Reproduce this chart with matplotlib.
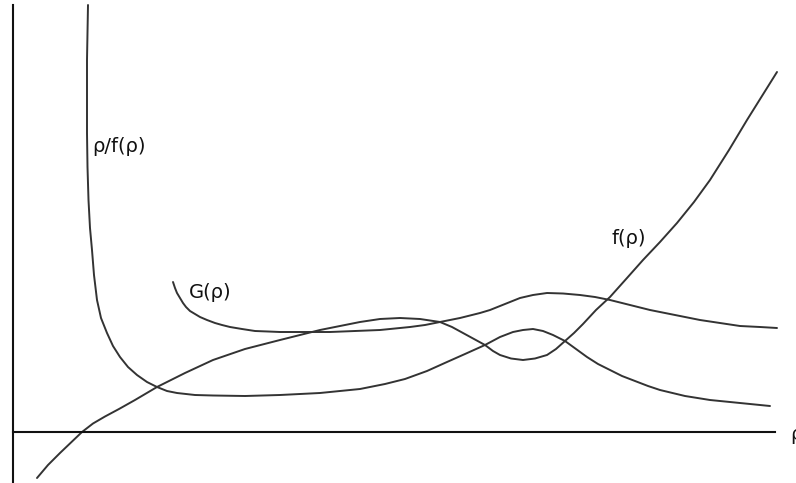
import matplotlib
matplotlib.use('Agg')
import matplotlib.pyplot as plt

# rho / f(rho): pole at small rho, flat, a hump, then decaying
rho_q = [75, 74, 74, 74, 74.5, 75.5, 77, 79, 81, 84, 88, 94, 100, 107, 115, 124, 134, 144,
         154, 164, 182, 200, 232, 267, 307, 347, 372, 392, 414, 434, 452, 472, 487, 500,
         510, 520, 530, 540, 552, 563, 574, 585, 597, 609, 622, 635, 647, 672, 697, 727, 757]
q_val = [427, 372, 330, 299, 265, 232, 204, 182, 157, 132, 114, 99, 86, 75, 65, 57, 50, 45,
         41, 39, 37, 36.5, 36, 37, 39, 43, 48, 53, 61, 70, 78, 87, 95, 100,
         102, 103, 101, 97, 91, 83, 75, 68, 62, 56, 51, 46, 42, 36, 32, 29, 26]

# f(rho): local max, local min, then steep rise
rho_f = [24, 35, 47, 58, 69, 80, 92, 106, 122, 144, 172, 200, 232, 267, 307, 347, 367, 387,
         407, 427, 439, 450, 461, 472, 480, 487, 498, 510, 522, 534, 543, 552, 561, 570,
         583, 597, 614, 630, 647, 664, 681, 697, 716, 734, 749, 764]
f_val = [-46, -33, -21, -10.5, 0, 8.5, 15.5, 23, 32, 45, 59, 72, 83, 92, 102, 110, 113, 114,
         113, 110, 105, 99, 93, 87, 81, 77, 73.5, 72, 73.5, 77, 83, 91, 99, 108,
         122, 135, 154, 172, 190, 209, 230, 252, 282, 312, 336, 360]

# G(rho)
rho_g = [160, 162, 164, 167, 170, 173, 177, 182, 187, 194, 202, 209, 217, 229, 242, 255,
         267, 292, 317, 342, 367, 382, 397, 412, 427, 447, 467, 477, 487, 497, 507, 520,
         534, 550, 567, 582, 597, 617, 637, 662, 687, 707, 727, 747, 764]
g_val = [150, 144, 139, 134, 129, 125, 121, 118, 115, 112, 109, 107, 105, 103, 101, 100.5,
         100, 100, 100, 101, 102, 103.5, 105, 107, 110, 114, 119, 122, 126, 130, 134, 137,
         139, 138.5, 137, 135, 132, 127, 122, 117, 112, 109, 106, 105, 104]

kolor = '#333333'

fig = plt.figure(figsize=(7.96, 4.83), dpi=100)
ax = fig.add_axes([0, 0, 1, 1])
ax.set_xlim(-13, 783)
ax.set_ylim(-51, 432)

for xs, ys in [(rho_q, q_val), (rho_f, f_val), (rho_g, g_val)]:
    ax.plot(xs, ys, color=kolor, lw=1.4, solid_joinstyle='round', solid_capstyle='round')

# osie przez zero
for s in ['top', 'right']:
    ax.spines[s].set_visible(False)
ax.spines['left'].set_position(('data', 0))
ax.spines['bottom'].set_position(('data', 0))
ax.spines['left'].set_bounds(-51, 427)
ax.spines['bottom'].set_bounds(0, 762)
for s in ['left', 'bottom']:
    ax.spines[s].set_linewidth(1.5)
    ax.spines[s].set_color('#111111')
ax.set_xticks([])
ax.set_yticks([])

ax.text(79, 285, 'ρ/f(ρ)', fontsize=14, ha='left', va='center', color='#111111')
ax.text(176, 140, 'G(ρ)', fontsize=14, ha='left', va='center', color='#111111')
ax.text(599, 193, 'f(ρ)', fontsize=14, ha='left', va='center', color='#111111')
ax.text(777, -3, 'ρ', fontsize=14, ha='left', va='center', color='#111111')

fig.savefig('out.png', dpi=100)
